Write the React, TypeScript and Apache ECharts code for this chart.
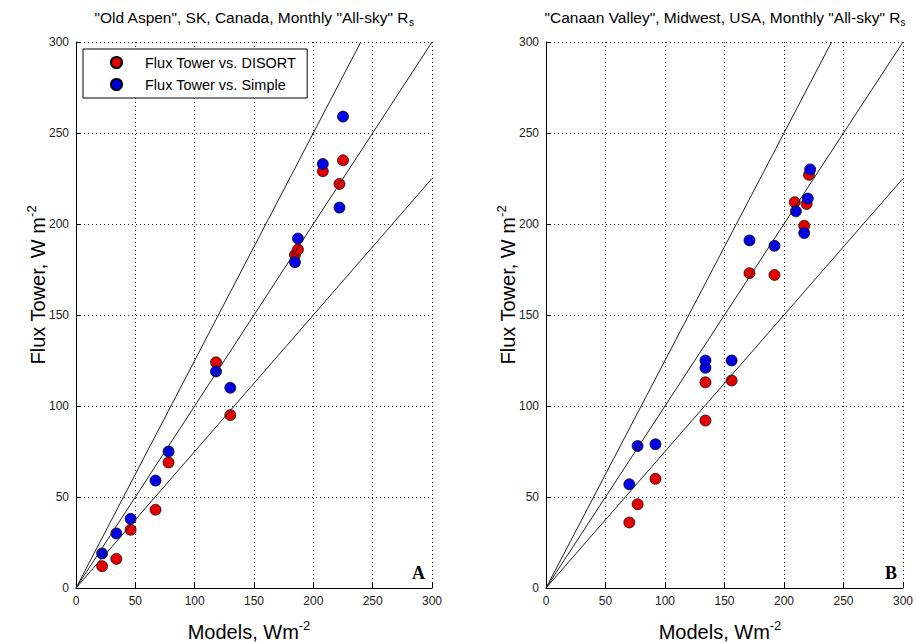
import React, { useEffect, useRef } from 'react';
import * as echarts from 'echarts';

const tickValues = [0, 50, 100, 150, 200, 250, 300];
const seriesNames = ['Flux Tower vs. DISORT', 'Flux Tower vs. Simple'];

// Panel A: "Old Aspen"
const aspenDisortModel = [22, 34, 46, 67, 78, 118, 130, 184.5, 187, 208, 222, 225];
const aspenDisortTower = [12, 16, 32, 43, 69, 124, 95, 183, 186, 229, 222, 235];
const aspenSimpleModel = [22, 34, 46, 67, 78, 118, 130, 184.5, 187, 208, 222, 225];
const aspenSimpleTower = [19, 30, 38, 59, 75, 119, 110, 179, 192, 233, 209, 259];

// Panel B: "Canaan Valley"
const canaanDisortModel = [70, 77, 92, 134, 134, 156, 171, 192, 209, 219, 221, 217];
const canaanDisortTower = [36, 46, 60, 92, 113, 114, 173, 172, 212, 211, 227, 199];
const canaanSimpleModel = [70, 77, 92, 134, 134, 156, 171, 192, 210, 220, 222, 217];
const canaanSimpleTower = [57, 78, 79, 121, 125, 125, 191, 188, 207, 214, 230, 195];

// reference lines y = k x
const lineSlopes = [1.25, 1, 0.75];

const panelTitles = [
  '"Old Aspen", SK, Canada, Monthly "All-sky" R',
  '"Canaan Valley", Midwest, USA, Monthly "All-sky" R',
];
const panelLetters = ['A', 'B'];
const xAxisTitle = 'Models, Wm';
const yAxisTitle = 'Flux Tower, W m';
const unitExp = '-2';

const zip = (xs: number[], ys: number[]) => xs.map((x, i) => [x, ys[i]]);

export default function App() {
  const ref = useRef<HTMLDivElement>(null);
  useEffect(() => {
    const chart = echarts.init(ref.current!, null, { renderer: 'svg' });
    const red = '#e40000';
    const blue = '#0000e4';
    const font = 'Liberation Sans';

    const mkAxis = (gridIndex: number) => ({
      gridIndex,
      type: 'value',
      min: tickValues[0],
      max: tickValues[tickValues.length - 1],
      interval: tickValues[1] - tickValues[0],
      axisLine: { show: true, onZero: false, lineStyle: { color: '#000', width: 1 } },
      axisTick: { show: true, inside: true, length: 5, lineStyle: { color: '#000' } },
      axisLabel: { color: '#222', fontSize: 12, fontFamily: font, margin: 7 },
      splitLine: {
        show: true,
        showMinLine: true,
        showMaxLine: true,
        lineStyle: { color: '#222', type: [1, 3], dashOffset: 0, width: 1, opacity: 1 },
      },
    });

    const scatter = (name: string, idx: number, data: number[][], color: string) => ({
      type: 'scatter',
      name,
      xAxisIndex: idx,
      yAxisIndex: idx,
      data,
      symbol: 'circle',
      symbolSize: 11,
      z: 2,
      itemStyle: { color, borderColor: '#000', borderWidth: 0.7, opacity: 1 },
    });

    const refLines: any[] = [];
    [0, 1].forEach((idx) => {
      lineSlopes.forEach((k) => {
        const xEnd = Math.min(300, 300 / k);
        refLines.push({
          type: 'line',
          xAxisIndex: idx,
          yAxisIndex: idx,
          data: [[0, 0], [xEnd, k * xEnd]],
          symbol: 'none',
          silent: true,
          z: 3,
          lineStyle: { color: '#222', width: 1 },
        });
      });
    });

    const grids = [
      { left: 76, top: 42, width: 356, height: 546 },
      { left: 546, top: 42, width: 358, height: 546 },
    ];

    const titleRich = {
      a: { fontSize: 15.5, fontFamily: font, color: '#111', verticalAlign: 'top', lineHeight: 18 },
      s: { fontSize: 10, fontFamily: font, color: '#111', verticalAlign: 'bottom', lineHeight: 10 },
    };
    const axRich = {
      a: { fontSize: 20, fontFamily: font, color: '#000', verticalAlign: 'bottom', lineHeight: 23 },
      e: { fontSize: 13, fontFamily: font, color: '#000', verticalAlign: 'top', lineHeight: 13 },
    };

    const graphics: any[] = [];
    grids.forEach((g, i) => {
      const cx = g.left + g.width / 2;
      graphics.push({
        type: 'text',
        x: cx,
        y: 18,
        style: {
          text: `{a|${panelTitles[i]}}{s|s}`,
          rich: titleRich,
          align: 'center',
          verticalAlign: 'middle',
        },
      });
      graphics.push({
        type: 'text',
        x: cx - 5,
        y: 630,
        style: {
          text: `{a|${xAxisTitle}}{e|${unitExp}}`,
          rich: axRich,
          align: 'center',
          verticalAlign: 'middle',
        },
      });
      graphics.push({
        type: 'text',
        x: g.left - 40,
        y: 285,
        rotation: Math.PI / 2,
        style: {
          text: `{a|${yAxisTitle}}{e|${unitExp}}`,
          rich: axRich,
          align: 'center',
          verticalAlign: 'middle',
        },
      });
      graphics.push({
        type: 'text',
        x: g.left + g.width - 7,
        y: g.top + g.height - 6,
        z: 10,
        style: {
          text: panelLetters[i],
          font: 'bold 18px "Liberation Serif"',
          fill: '#000',
          align: 'right',
          verticalAlign: 'bottom',
        },
      });
    });

    chart.setOption({
      animation: false,
      backgroundColor: '#fff',
      grid: grids,
      xAxis: [mkAxis(0), mkAxis(1)],
      yAxis: [mkAxis(0), mkAxis(1)],
      legend: {
        data: seriesNames,
        orient: 'vertical',
        left: 83,
        top: 49,
        backgroundColor: '#fff',
        borderColor: '#000',
        borderWidth: 1,
        padding: [6, 11, 6, 27],
        itemGap: 7,
        itemWidth: 11,
        itemHeight: 11,
        icon: 'circle',
        selectedMode: false,
        z: 10,
        textStyle: { fontSize: 14.5, color: '#000', fontFamily: font, padding: [0, 0, 0, 18] },
      },
      series: [
        scatter(seriesNames[0], 0, zip(aspenDisortModel, aspenDisortTower), red),
        scatter(seriesNames[1], 0, zip(aspenSimpleModel, aspenSimpleTower), blue),
        scatter(seriesNames[0], 1, zip(canaanDisortModel, canaanDisortTower), red),
        scatter(seriesNames[1], 1, zip(canaanSimpleModel, canaanSimpleTower), blue),
        ...refLines,
      ],
      graphic: graphics,
    });
    return () => chart.dispose();
  }, []);
  return (
    <div
      ref={ref}
      style={{ position: 'fixed', left: 0, top: 0, width: 916, height: 643, background: '#fff' }}
    />
  );
}
